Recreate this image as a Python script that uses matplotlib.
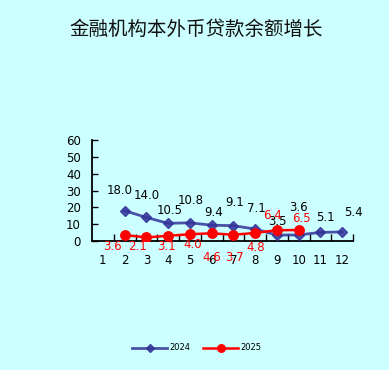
import matplotlib
matplotlib.use("Agg")
import matplotlib.pyplot as plt
from matplotlib.ticker import FixedLocator, NullFormatter

# ---- data ----
title = "金融机构本外币贷款余额增长"
months = list(range(1, 13))
x_2024 = [2, 3, 4, 5, 6, 7, 8, 9, 10, 11, 12]
v_2024 = [18.0, 14.0, 10.5, 10.8, 9.4, 9.1, 7.1, 3.5, 3.6, 5.1, 5.4]
x_2025 = [2, 3, 4, 5, 6, 7, 8, 9, 10]
v_2025 = [3.6, 2.1, 3.1, 4.0, 4.6, 3.7, 4.8, 6.4, 6.5]
series_names = ["2024", "2025"]
y_ticks = [0, 10, 20, 30, 40, 50, 60]

# label offsets (pixels) for data labels
off_2024 = [(-5, 20), (0, 22), (2, 13), (1, 22), (2, 13), (1, 23), (1, 21),
            (1, 14), (0, 27), (5, 15), (11, 19)]
off_2025 = [(-12, -12), (-9, -9), (-2, -11), (3, -10), (0, -24), (1, -23),
            (1, -15), (-4, 15), (3, 12)]

bg = "#CCFFFF"
W, H = 389, 370
fig = plt.figure(figsize=(W / 100, H / 100), dpi=100, facecolor=bg)
ax = fig.add_axes([92 / W, 1 - 241 / H, (353 - 92) / W, (241 - 140) / H])
ax.set_facecolor(bg)

c24 = "#333399"
c25 = "#FF0000"
ax.plot(x_2024, v_2024, color=c24, lw=2.0, alpha=0.85, marker="D", ms=5.5,
        mfc=c24, mec=c24, label=series_names[0], zorder=3)
ax.plot(x_2025, v_2025, color=c25, lw=1.8, marker="o", ms=6.8,
        mfc=c25, mec=c25, label=series_names[1], zorder=4)

lab_font = dict(fontsize=8.5, family="DejaVu Sans")
for xv, yv, (dx, dy) in zip(x_2024, v_2024, off_2024):
    ax.annotate(f"{yv:.1f}", (xv, yv), xytext=(dx, dy), textcoords="offset pixels",
                ha="center", va="center", color="black", annotation_clip=False,
                **lab_font)
for xv, yv, (dx, dy) in zip(x_2025, v_2025, off_2025):
    ax.annotate(f"{yv:.1f}", (xv, yv), xytext=(dx, dy), textcoords="offset pixels",
                ha="center", va="center", color=c25, annotation_clip=False,
                **lab_font)

ax.set_xlim(0.5, 12.5)
ax.set_ylim(0, 60)
ax.set_yticks(y_ticks)
ax.set_yticklabels([str(t) for t in y_ticks], fontsize=8.5)
ax.set_xticks(months)
ax.set_xticklabels([str(m) for m in months], fontsize=8.5)
ax.tick_params(axis="x", which="major", length=0, pad=9)
ax.xaxis.set_minor_locator(FixedLocator([m + 0.5 for m in months]))
ax.xaxis.set_minor_formatter(NullFormatter())
ax.tick_params(axis="x", which="minor", direction="in", length=5, width=1, color="black")
ax.tick_params(axis="y", direction="in", length=4, width=1, pad=8)
for s in ["top", "right"]:
    ax.spines[s].set_visible(False)
for s in ["left", "bottom"]:
    ax.spines[s].set_linewidth(1.3)
    ax.spines[s].set_color("black")

fig.text(196 / W, 1 - 29 / H, title, ha="center", va="center",
         fontsize=14, family=["Noto Sans CJK SC", "DejaVu Sans"], color="#111111")

leg = fig.legend(loc="center", bbox_to_anchor=(197 / W, 1 - 348 / H), ncol=2,
                 frameon=False, fontsize=6, handlelength=4.2, columnspacing=1.5,
                 handletextpad=0.3, markerscale=0.8)

fig.savefig("out.png", dpi=100, facecolor=bg)
